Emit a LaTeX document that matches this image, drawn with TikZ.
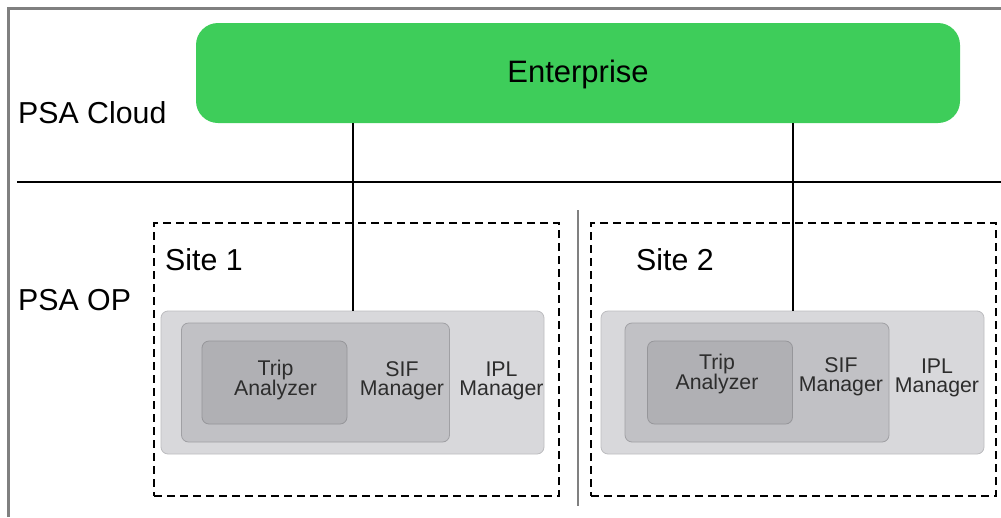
\documentclass[tikz,border=0pt]{standalone}
\usepackage{fontspec}
\setmainfont{Liberation Sans}
\usetikzlibrary{calc}

\definecolor{entgreen}{RGB}{62,205,90}
\definecolor{iplfill}{RGB}{216,216,219}
\definecolor{iplline}{RGB}{188,188,191}
\definecolor{siffill}{RGB}{193,193,197}
\definecolor{sifline}{RGB}{160,160,164}
\definecolor{tripfill}{RGB}{176,176,180}
\definecolor{tripline}{RGB}{150,150,154}
\definecolor{framegrey}{RGB}{128,128,128}
\definecolor{txtgrey}{RGB}{45,45,45}

\begin{document}
\begin{tikzpicture}[x=1pt,y=-1pt,
    box/.style={rounded corners=7pt, inner sep=0pt, outer sep=0pt, line width=0.8pt},
    iplbox/.style={box, draw=iplline, fill=iplfill, minimum width=383pt, minimum height=143pt},
    sifbox/.style={box, draw=sifline, fill=siffill, minimum height=119pt},
    tripbox/.style={box, draw=tripline, fill=tripfill, minimum width=145pt, minimum height=83pt},
    sitebox/.style={draw, dashed, dash pattern=on 8pt off 5pt, line width=1.1pt, inner sep=0pt,
      minimum width=405pt, minimum height=273pt},
    lbl/.style={font=\fontsize{30.3}{36}\selectfont, anchor=base west, inner sep=0pt},
    boxtxt/.style={font=\fontsize{21.3}{19}\selectfont, align=center, text=txtgrey, inner sep=0pt},
    conn/.style={line width=2pt}]
    \useasboundingbox (0,0) rectangle (1001,517);

    % frame and level lines
    \draw[framegrey, line width=3pt] (8,517) -- (8,8) -- (1001,8);
    \draw[line width=2pt] (17,182) -- (1001,182);
    \draw[framegrey, line width=2.5pt] (578,210) -- (578,506);

    \node (ent) at (578,73)[box, rounded corners=22pt, fill=entgreen, minimum width=764pt,
      minimum height=100pt, font=\fontsize{31}{36}\selectfont, text height=22pt, text depth=4pt]{Enterprise};

    \node (cloud) at (18,123)[lbl]{PSA Cloud};
    \node (op) at (18,310)[lbl]{PSA OP};

    % site 1
    \node (site1) at (356.5,359.5)[sitebox]{};
    \node (site1lbl) at (165,270)[lbl]{Site 1};
    \node (ipl1) at (352.5,382.5)[iplbox]{};
    \node (sif1) at (315.5,382.5)[sifbox, minimum width=268pt]{};
    \node (trip1) at (274.5,382.5)[tripbox]{};
    \node (trip1txt) at (275.5,380)[boxtxt]{Trip\\Analyzer};
    \node (sif1txt) at (402,381)[boxtxt]{SIF\\Manager};
    \node (ipl1txt) at (501.5,381)[boxtxt]{IPL\\Manager};

    % site 2
    \node (site2) at (793.5,359.5)[sitebox]{};
    \node (site2lbl) at (636,270)[lbl]{Site 2};
    \node (ipl2) at (792.5,382.5)[iplbox]{};
    \node (sif2) at (757,382.5)[sifbox, minimum width=264pt]{};
    \node (trip2) at (720,382.5)[tripbox]{};
    \node (trip2txt) at (717,374)[boxtxt]{Trip\\Analyzer};
    \node (sif2txt) at (841,377)[boxtxt]{SIF\\Manager};
    \node (ipl2txt) at (937,378)[boxtxt]{IPL\\Manager};

    \draw[conn] (ent.south -| ipl1.north) -- (ipl1.north);
    \draw[conn] (ent.south -| ipl2.north) -- (ipl2.north);
\end{tikzpicture}
\end{document}
